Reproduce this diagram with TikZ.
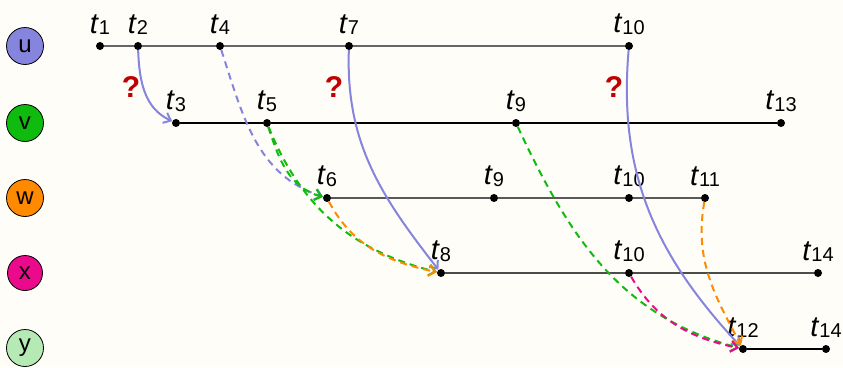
\documentclass[tikz,border=0pt]{standalone}
\usepackage{fontspec}
\setmainfont{Liberation Sans}
\usetikzlibrary{arrows.meta}
\definecolor{bgcream}{HTML}{FEFDF8}
\definecolor{lav}{HTML}{8585DE}
\definecolor{grn}{HTML}{10BB10}
\definecolor{org}{HTML}{FF8A00}
\definecolor{mag}{HTML}{EC0A8C}
\definecolor{ltgrn}{HTML}{B5EAB5}
\definecolor{qred}{HTML}{C00000}
\newcommand{\tsub}[1]{\textit{t}\raisebox{-1.5pt}{\fontsize{20}{20}\selectfont #1}}

\begin{document}
\begin{tikzpicture}[x=1pt, y=1pt,
  >={Straight Barb[length=6.5pt, width=11pt]},
  proc/.style={circle, draw=black, line width=0.8pt, fill=#1,
    minimum size=37pt, inner sep=0pt, font=\fontsize{24}{24}\selectfont},
  evt/.style={circle, fill=black, minimum size=8pt, inner sep=0pt},
  tlab/.style={inner sep=0pt, font=\fontsize{29}{29}\selectfont},
  tline/.style={line width=1.3pt, draw=#1},
  msg/.style={->, line width=2pt, draw=#1},
  dmsg/.style={msg=#1, dash pattern=on 7pt off 5pt},
  qmark/.style={text=qred, font=\fontsize{30}{30}\selectfont\bfseries},
  every label/.style={tlab},
  label distance=7pt
]

% Background
\fill[bgcream] (0,0) rectangle (843,-367);
\useasboundingbox (0,0) rectangle (843,-367);

% Processes
\node[proc=lav] (u) at (25,-46) {u};
\node[proc=grn] (v) at (25,-123) {v};
\node[proc=org] (w) at (25,-198) {w};
\node[proc=mag, minimum size=35pt] (x) at (25,-273) {x};
\node[proc=ltgrn] (y) at (25,-348) {y};

% Events on u
\node[evt, label=above:\tsub{1}] (u1) at (100,-46) {};
\node[evt, label=above:\tsub{2}] (u2) at (138,-46) {};
\node[evt, label=above:\tsub{4}] (u4) at (220,-46) {};
\node[evt, label=above:\tsub{7}] (u7) at (349,-46) {};
\node[evt, label=above:\tsub{10}] (u10) at (629,-46) {};

% Events on v
\node[evt, label=above:\tsub{3}] (v3) at (176,-123) {};
\node[evt, label=above:\tsub{5}] (v5) at (267,-123) {};
\node[evt, label=above:\tsub{9}] (v9) at (516,-123) {};
\node[evt, label=above:\tsub{13}] (v13) at (781,-123) {};

% Events on w
\node[evt, label=above:\tsub{6}] (w6) at (327,-198) {};
\node[evt, label=above:\tsub{9}] (w9) at (494,-198) {};
\node[evt, label=above:\tsub{10}] (w10) at (629,-198) {};
\node[evt, label=above:\tsub{11}] (w11) at (705,-198) {};

% Events on x
\node[evt, label=above:\tsub{8}] (x8) at (441,-273) {};
\node[evt, label=above:\tsub{10}] (x10) at (629,-273) {};
\node[evt, label=above:\tsub{14}] (x14) at (818,-273) {};

% Events on y
\node[evt, label=above:\tsub{12}] (y12) at (743,-349) {};
\node[evt, label=above:\tsub{14}] (y14) at (826,-349) {};

% Time lines
\draw[tline=black!60] (u1) -- (u2) -- (u4) -- (u7) -- (u10);
\draw[tline=black] (v3) -- (v5) -- (v9) -- (v13);
\draw[tline=black!65] (w6) -- (w9) -- (w10) -- (w11);
\draw[tline=black!70] (x8) -- (x10) -- (x14);
\draw[tline=black] (y12) -- (y14);

% Messages from u
\draw[msg=lav] (u2) to[out=-88, in=155] (v3);
\draw[dmsg=lav] (u4) to[out=-72, in=162] (w6);
\draw[msg=lav] (u7) to[out=-92, in=128] (x8);
\draw[msg=lav] (u10) to[out=-95, in=133] (y12);

% Messages from v
\draw[dmsg=grn] (v5) to[out=-72, in=165] (w6);
\draw[dmsg=grn] (v5) to[out=-68, in=166] (x8);
\draw[dmsg=grn] (v9) to[out=-65, in=165] (y12);

% Messages from w and x
\draw[dmsg=org] (w6) to[out=-62, in=168] (x8);
\draw[dmsg=org] (w11) to[out=-100, in=118] (y12);
\draw[dmsg=mag] (x10) to[out=-60, in=168] (y12);

% Unknown delays
\node[qmark] (q1) at (131,-87) {?};
\node[qmark] (q2) at (334,-87) {?};
\node[qmark] (q3) at (614,-87) {?};

\end{tikzpicture}
\end{document}
